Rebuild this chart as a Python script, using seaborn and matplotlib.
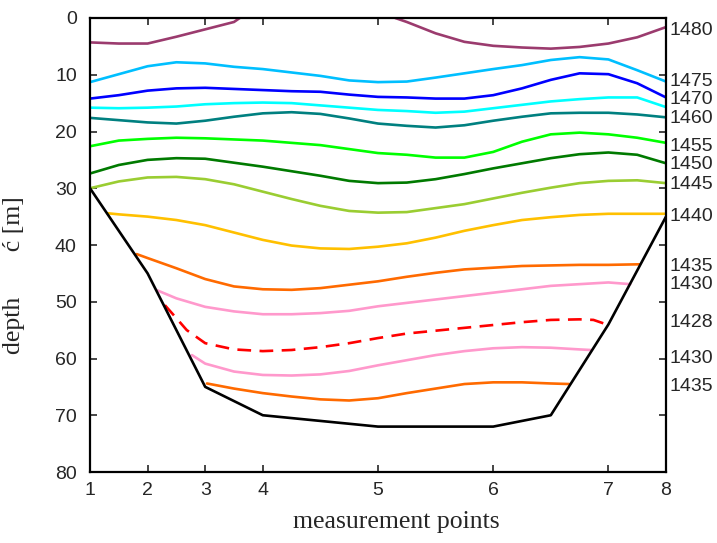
import numpy as np
import pandas as pd
import matplotlib
matplotlib.use("Agg")
import matplotlib.pyplot as plt
import matplotlib.transforms as mtransforms
import seaborn as sns

# ---------------- data (x in distance units, y = depth in m) ----------------
x_tick_pos = [0, 1, 2, 3, 5, 7, 9, 10]
x_tick_labels = ["1", "2", "3", "4", "5", "6", "7", "8"]
y_ticks = [0, 10, 20, 30, 40, 50, 60, 70, 80]

bottom_x = [0, 1, 2, 3, 5, 7, 8, 9, 10]
bottom_d = [30, 45, 65, 70, 72, 72, 70, 54, 35]

u_full = [0, 0.5, 1, 1.5, 2, 2.5, 3, 3.5, 4, 4.5, 5, 5.5, 6, 6.5, 7, 7.5, 8, 8.5, 9, 9.5, 10]

purple_a_x = [0, 0.5, 1, 1.5, 2, 2.5, 2.6]
purple_a_d = [4.3, 4.5, 4.5, 3.3, 2.0, 0.7, 0.0]
purple_b_x = [5.3, 5.5, 6, 6.5, 7, 7.5, 8, 8.5, 9, 9.5, 10]
purple_b_d = [0.0, 0.7, 2.7, 4.2, 4.9, 5.2, 5.4, 5.1, 4.5, 3.4, 1.6]

sky_d = [11.3, 9.9, 8.5, 7.8, 8.0, 8.6, 9.0, 9.6, 10.2, 11.0, 11.3, 11.2, 10.5, 9.75, 9.0, 8.3, 7.4, 6.9, 7.3, 9.2, 11.2]
blue_d = [14.2, 13.6, 12.8, 12.4, 12.3, 12.5, 12.7, 12.9, 13.0, 13.5, 13.9, 14.0, 14.2, 14.2, 13.6, 12.4, 10.9, 9.75, 9.9, 11.5, 14.0]
cyan_d = [15.8, 15.9, 15.8, 15.6, 15.2, 15.0, 14.9, 15.0, 15.4, 15.8, 16.2, 16.4, 16.7, 16.5, 15.9, 15.3, 14.7, 14.3, 14.0, 14.0, 15.7]
teal_d = [17.6, 18.0, 18.4, 18.6, 18.1, 17.4, 16.8, 16.6, 16.9, 17.7, 18.6, 19.0, 19.3, 18.9, 18.1, 17.4, 16.8, 16.7, 16.7, 17.0, 17.5]
lime_d = [22.6, 21.6, 21.3, 21.1, 21.2, 21.4, 21.6, 22.0, 22.4, 23.1, 23.8, 24.1, 24.6, 24.6, 23.6, 21.8, 20.5, 20.2, 20.5, 21.1, 22.0]
dkgreen_d = [27.4, 25.9, 25.0, 24.7, 24.8, 25.5, 26.2, 27.0, 27.8, 28.7, 29.1, 29.0, 28.4, 27.5, 26.5, 25.6, 24.7, 24.0, 23.7, 24.1, 25.6]
ygreen_d = [30.0, 28.8, 28.1, 28.0, 28.4, 29.3, 30.6, 31.9, 33.1, 34.0, 34.3, 34.2, 33.5, 32.8, 31.8, 30.8, 29.9, 29.1, 28.7, 28.6, 29.1]

gold_x = [0.3, 0.5, 1, 1.5, 2, 2.5, 3, 3.5, 4, 4.5, 5, 5.5, 6, 6.5, 7, 7.5, 8, 8.5, 9, 9.5, 10]
gold_d = [34.4, 34.6, 35.0, 35.6, 36.5, 37.8, 39.1, 40.1, 40.6, 40.7, 40.3, 39.7, 38.7, 37.5, 36.5, 35.6, 35.1, 34.7, 34.5, 34.5, 34.5]

orange1_x = [0.81, 1.0, 1.5, 2, 2.5, 3, 3.5, 4, 4.5, 5, 5.5, 6, 6.5, 7, 7.5, 8, 8.5, 9, 9.54]
orange1_d = [41.6, 42.3, 44.1, 46.0, 47.3, 47.8, 47.9, 47.6, 47.0, 46.4, 45.6, 44.9, 44.3, 44.0, 43.7, 43.6, 43.5, 43.5, 43.4]

pink1_x = [1.17, 1.5, 2, 2.5, 3, 3.5, 4, 4.5, 5, 5.5, 6, 6.5, 7, 7.5, 8, 8.5, 9, 9.38]
pink1_d = [48.0, 49.4, 50.9, 51.7, 52.2, 52.2, 52.0, 51.6, 50.8, 50.2, 49.6, 49.0, 48.4, 47.8, 47.2, 46.9, 46.6, 46.9]

red_x = [1.30, 1.5, 1.68, 2, 2.5, 3, 3.5, 4, 4.5, 5, 5.5, 6, 6.5, 7, 7.5, 8, 8.5, 8.74, 9.0]
red_d = [50.6, 52.9, 55.0, 57.3, 58.4, 58.7, 58.5, 58.0, 57.3, 56.4, 55.6, 55.1, 54.6, 54.1, 53.6, 53.2, 53.1, 53.2, 54.1]

pink2_x = [1.77, 2, 2.5, 3, 3.5, 4, 4.5, 5, 5.5, 6, 6.5, 7, 7.5, 8, 8.5, 8.69]
pink2_d = [59.4, 60.9, 62.3, 62.9, 63.0, 62.8, 62.2, 61.2, 60.3, 59.4, 58.7, 58.2, 58.0, 58.1, 58.4, 58.5]

orange2_x = [2.03, 2.5, 3, 3.5, 4, 4.5, 5, 5.5, 6, 6.5, 7, 7.5, 8, 8.32]
orange2_d = [64.4, 65.3, 66.1, 66.7, 67.2, 67.4, 67.0, 66.1, 65.3, 64.5, 64.2, 64.2, 64.4, 64.5]

right_labels = ["1480", "1475", "1470", "1460", "1455", "1450", "1445", "1440",
                "1435", "1430", "1428", "1430", "1435"]
right_label_depths = [2.2, 11.2, 14.4, 17.7, 22.6, 25.8, 29.3, 35.0,
                      43.8, 47.0, 53.7, 60.0, 65.0]

# ---------------- style ----------------
sns.set_style("ticks")
plt.rcParams["font.family"] = ["Liberation Sans", "DejaVu Sans"]

fig = plt.figure(figsize=(7.17, 5.43), dpi=100)
ax = fig.add_axes([90 / 717, 1 - 472 / 543, 576 / 717, 454 / 543])

LW = 1.9
curves = [
    (purple_a_x, purple_a_d, "#9b3b6e", "-"),
    (purple_b_x, purple_b_d, "#9b3b6e", "-"),
    (u_full, sky_d, "#00bfff", "-"),
    (u_full, blue_d, "#0000ff", "-"),
    (u_full, cyan_d, "#00ffff", "-"),
    (u_full, teal_d, "#008080", "-"),
    (u_full, lime_d, "#00ff00", "-"),
    (u_full, dkgreen_d, "#007a00", "-"),
    (u_full, ygreen_d, "#9acd32", "-"),
    (gold_x, gold_d, "#ffc000", "-"),
    (orange1_x, orange1_d, "#ff6a00", "-"),
    (pink1_x, pink1_d, "#ff99cc", "-"),
    (red_x, red_d, "#ff0000", (0, (5.2, 3.2))),
    (pink2_x, pink2_d, "#ff99cc", "-"),
    (orange2_x, orange2_d, "#ff6a00", "-"),
]
for xs, ds, col, ls in curves:
    df = pd.DataFrame({"x": xs, "d": ds})
    sns.lineplot(data=df, x="x", y="d", color=col, lw=LW, linestyle=ls,
                 sort=False, estimator=None, ax=ax)

dfb = pd.DataFrame({"x": bottom_x, "d": bottom_d})
sns.lineplot(data=dfb, x="x", y="d", color="black", lw=1.9, sort=False,
             estimator=None, ax=ax)

ax.set_xlim(0, 10)
ax.set_ylim(80, 0)
ax.set_xticks(x_tick_pos)
ax.set_xticklabels(x_tick_labels)
ax.set_yticks(y_ticks)
ax.tick_params(direction="in", length=5, width=1.2, labelsize=14,
               top=True, right=True)
ax.tick_params(axis="x", pad=7)
ax.tick_params(axis="y", pad=9.5)
for s in ax.spines.values():
    s.set_visible(True)
    s.set_linewidth(1.6)
    s.set_color("black")

ax.set_xlabel("measurement points", family=["Liberation Serif"], fontsize=18.5)
ax.xaxis.set_label_coords(0.531, -0.085)
ax.set_ylabel("depth       ć [m]", family=["Liberation Serif"], fontsize=18.5)
ax.yaxis.set_label_coords(-0.113, 0.434)

trans = mtransforms.blended_transform_factory(ax.transAxes, ax.transData)
for lab, d in zip(right_labels, right_label_depths):
    ax.text(1.006, d, lab, transform=trans, ha="left", va="center",
            fontsize=14, clip_on=False)

fig.savefig("out.png", dpi=100)
